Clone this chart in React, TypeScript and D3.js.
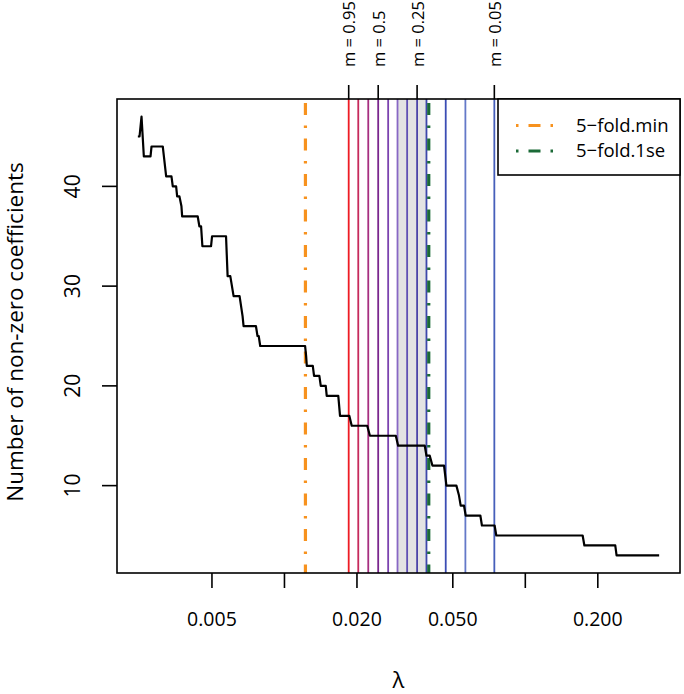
import { useRef, useEffect } from 'react';
import * as d3 from 'd3';

// path of the non-zero count along the lambda grid
const lambdaPath = [
  0.002462, 0.002502, 0.00255, 0.002607, 0.002779, 0.002806, 0.003124, 0.003227,
  0.003395, 0.003438, 0.00355, 0.003585, 0.003664, 0.003735, 0.00376, 0.004362,
  0.004433, 0.004506, 0.004563, 0.004957, 0.005005, 0.00572, 0.005807, 0.005958,
  0.006149, 0.006511, 0.0067, 0.006765, 0.007612, 0.007728, 0.007818, 0.007931,
  0.01218, 0.0123, 0.01238, 0.01311, 0.01327, 0.01396, 0.01415, 0.01484,
  0.01498, 0.01673, 0.01701, 0.01859, 0.01902, 0.02206, 0.02264, 0.029,
  0.02964, 0.03824, 0.03887, 0.04011, 0.04117, 0.04598, 0.04704, 0.05175,
  0.05305, 0.05391, 0.05565, 0.05655, 0.06506, 0.06605, 0.07457, 0.07578,
  0.173, 0.1759, 0.2363, 0.2393, 0.3595,
];
const nonzeroPath = [
  45, 45, 47, 43, 43, 44, 44, 41,
  41, 40, 40, 39, 39, 38, 37, 37,
  36, 36, 34, 34, 35, 35, 31, 31,
  29, 29, 27, 26, 26, 25, 25, 24,
  24, 23, 22, 22, 21, 21, 20, 20,
  19, 19, 17, 17, 16, 16, 15, 15,
  14, 14, 13, 13, 12, 12, 10, 10,
  9, 8, 8, 7, 7, 6, 6, 5,
  5, 4, 4, 3, 3,
];

// lambda chosen for each m
const mValues = [0.95, 0.85, 0.75, 0.5, 0.45, 0.4, 0.35, 0.25, 0.2, 0.15, 0.1, 0.05];
const mLambda = [0.01848, 0.02025, 0.02228, 0.0245, 0.02695, 0.02947, 0.03231, 0.03554, 0.03887, 0.04673, 0.05639, 0.07437];
const mLabelled = [0.95, 0.5, 0.25, 0.05];
const mColors = [
  '#ee1b24', '#c62a5c', '#a62f80', '#7a268e', '#7b43af', '#8868c4',
  '#6050b4', '#4c44a8', '#3d47aa', '#3b4db4', '#6479c8', '#465fba',
];
const bandLambda = [0.02947, 0.03887];

const cvNames = ['5\u2212fold.min', '5\u2212fold.1se'];
const cvLambda = [0.01222, 0.03973];
const cvColors = ['#f7921e', '#1b6a37'];

const xTickValues = [0.005, 0.01, 0.02, 0.05, 0.1, 0.2];
const xTickLabels = ['0.005', '', '0.020', '0.050', '', '0.200'];
const yTickValues = [10, 20, 30, 40];

const font = '"Open Sans", "Noto Sans", sans-serif';

const App = () => {
  const ref = useRef<SVGSVGElement>(null);

  useEffect(() => {
    const width = 684;
    const height = 694;
    const left = 117, right = 680, top = 99, bottom = 573;

    const svg = d3.select(ref.current);
    svg.selectAll('*').remove();
    svg.attr('width', width).attr('height', height);

    // R style 4% padding on both axes
    const lx = d3.extent(lambdaPath).map(Math.log10) as number[];
    const padX = (lx[1] - lx[0]) * 0.04;
    const x = d3.scaleLog()
      .domain([10 ** (lx[0] - padX), 10 ** (lx[1] + padX)])
      .range([left, right]);
    const ny = d3.extent(nonzeroPath) as number[];
    const padY = (ny[1] - ny[0]) * 0.04;
    const y = d3.scaleLinear()
      .domain([ny[0] - padY, ny[1] + padY])
      .range([bottom, top]);

    const plot = svg.append('g');

    plot.append('rect')
      .attr('x', x(bandLambda[0]))
      .attr('y', top)
      .attr('width', x(bandLambda[1]) - x(bandLambda[0]))
      .attr('height', bottom - top)
      .attr('fill', '#e3e3e3');

    plot.selectAll('line.m')
      .data(mLambda)
      .enter().append('line')
      .attr('class', 'm')
      .attr('x1', d => x(d)).attr('x2', d => x(d))
      .attr('y1', top).attr('y2', bottom)
      .attr('stroke', (d, i) => mColors[i])
      .attr('stroke-width', 1.8);

    const dash = '12 10.5 2.5 10.5';
    plot.selectAll('line.cv')
      .data(cvLambda)
      .enter().append('line')
      .attr('class', 'cv')
      .attr('x1', d => x(d)).attr('x2', d => x(d))
      .attr('y1', top).attr('y2', bottom)
      .attr('stroke', (d, i) => cvColors[i])
      .attr('stroke-width', 3.2)
      .attr('stroke-dasharray', dash)
      .attr('stroke-dashoffset', 31.5);

    const line = d3.line<number>()
      .x(d => x(d))
      .y((d, i) => y(nonzeroPath[i]));
    plot.append('path')
      .attr('d', line(lambdaPath))
      .attr('fill', 'none')
      .attr('stroke', '#000')
      .attr('stroke-width', 2.2)
      .attr('stroke-linejoin', 'round');

    // box
    svg.append('rect')
      .attr('x', left).attr('y', top)
      .attr('width', right - left).attr('height', bottom - top)
      .attr('fill', 'none')
      .attr('stroke', '#000')
      .attr('stroke-width', 1.6);

    // bottom axis
    const xAxis = svg.append('g');
    xAxis.selectAll('line')
      .data(xTickValues)
      .enter().append('line')
      .attr('x1', d => x(d)).attr('x2', d => x(d))
      .attr('y1', bottom).attr('y2', bottom + 15)
      .attr('stroke', '#000').attr('stroke-width', 1.6);
    xAxis.selectAll('text')
      .data(xTickValues)
      .enter().append('text')
      .attr('x', d => x(d))
      .attr('y', 626)
      .attr('text-anchor', 'middle')
      .attr('font-family', font)
      .attr('font-size', 19.5)
      .text((d, i) => xTickLabels[i]);

    // left axis
    const yAxis = svg.append('g');
    yAxis.selectAll('line')
      .data(yTickValues)
      .enter().append('line')
      .attr('x1', left - 15).attr('x2', left)
      .attr('y1', d => y(d)).attr('y2', d => y(d))
      .attr('stroke', '#000').attr('stroke-width', 1.6);
    yAxis.selectAll('text')
      .data(yTickValues)
      .enter().append('text')
      .attr('transform', d => `translate(80, ${y(d)}) rotate(-90)`)
      .attr('text-anchor', 'middle')
      .attr('font-family', font)
      .attr('font-size', 21)
      .text(d => d);

    // top axis with the m labels
    const mTicks = mValues
      .map((m, i) => ({ m, lambda: mLambda[i] }))
      .filter(d => mLabelled.includes(d.m));
    const topAxis = svg.append('g');
    topAxis.selectAll('line')
      .data(mTicks)
      .enter().append('line')
      .attr('x1', d => x(d.lambda)).attr('x2', d => x(d.lambda))
      .attr('y1', top - 14).attr('y2', top)
      .attr('stroke', '#000').attr('stroke-width', 1.6);
    topAxis.selectAll('text')
      .data(mTicks)
      .enter().append('text')
      .attr('transform', d => `translate(${x(d.lambda) + 6.5}, 67) rotate(-90)`)
      .attr('text-anchor', 'start')
      .attr('font-family', font)
      .attr('font-size', 16.5)
      .text(d => `m = ${d.m}`);

    // axis titles
    svg.append('text')
      .attr('x', (left + right) / 2)
      .attr('y', 688)
      .attr('text-anchor', 'middle')
      .attr('font-family', font)
      .attr('font-size', 22)
      .text('\u03bb');
    svg.append('text')
      .attr('transform', `translate(23, ${(top + bottom) / 2 - 4}) rotate(-90)`)
      .attr('text-anchor', 'middle')
      .attr('font-family', font)
      .attr('font-size', 22.5)
      .text('Number of non-zero coefficients');

    // legend
    const legend = svg.append('g');
    legend.append('rect')
      .attr('x', 498).attr('y', top)
      .attr('width', right - 498).attr('height', 76)
      .attr('fill', '#fff')
      .attr('stroke', '#000')
      .attr('stroke-width', 1.6);
    const rows = legend.selectAll('g.row')
      .data(cvNames)
      .enter().append('g')
      .attr('class', 'row')
      .attr('transform', (d, i) => `translate(0, ${125.5 + i * 25.5})`);
    rows.append('line')
      .attr('x1', 516).attr('x2', 553)
      .attr('stroke', (d, i) => cvColors[i])
      .attr('stroke-width', 3)
      .attr('stroke-dasharray', '2.5 10 12 10 2.5');
    rows.append('text')
      .attr('x', 576)
      .attr('dy', '0.35em')
      .attr('font-family', font)
      .attr('font-size', 18.5)
      .text(d => d);
  }, []);

  return (
    <svg ref={ref} style={{ position: 'absolute', left: 0, top: 0 }}></svg>
  );
};

export default App;
